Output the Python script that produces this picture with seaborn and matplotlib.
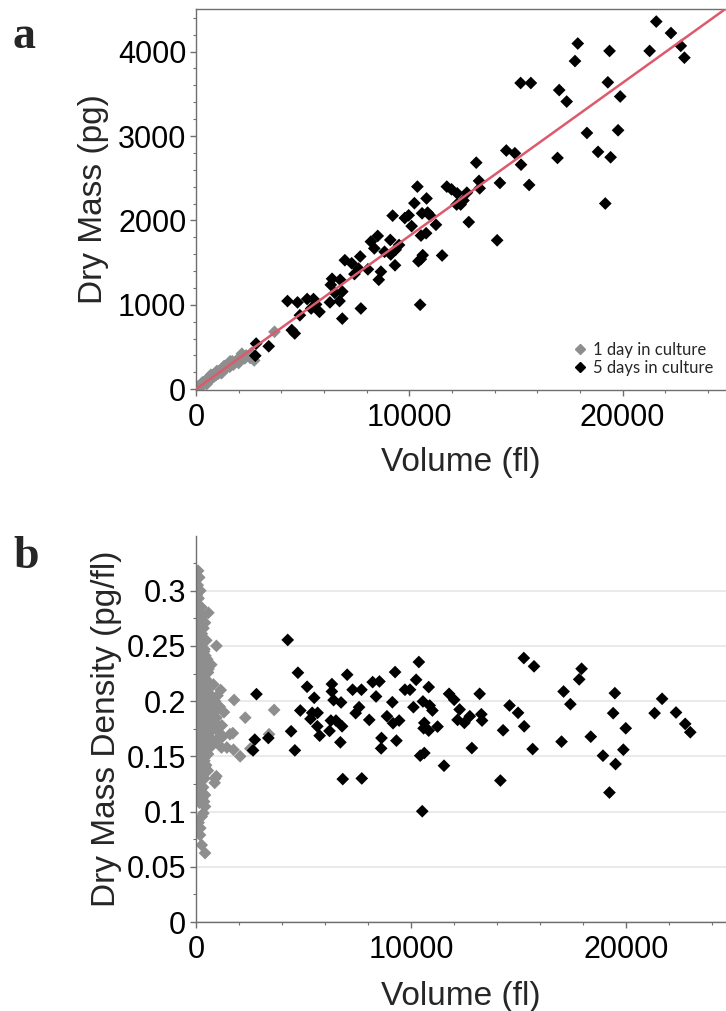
import numpy as np
import pandas as pd
import seaborn as sns
import matplotlib
matplotlib.use("Agg")
import matplotlib.pyplot as plt
from matplotlib.ticker import MultipleLocator, FuncFormatter
from matplotlib.lines import Line2D

# ---------------- data ----------------
# Panel a: 1 day in culture (gray)
a_day1_volume = [50, 80, 120, 150, 200, 230, 280, 300, 320, 350, 400, 430, 480, 500, 520, 560,
                 600, 640, 680, 700, 720, 760, 800, 850, 900, 950, 1000, 1050, 1100, 1150,
                 1200, 1220, 1280, 1350, 1420, 1500, 1580, 1600, 1650, 1750, 1820, 1900, 2000,
                 2060, 2200, 2290, 2350, 2540, 2600, 2730, 3680,
                 100, 260, 380, 550, 750, 980, 1320, 1700, 2150]
a_day1_mass = [10, 20, 35, 25, 45, 35, 60, 80, 50, 75, 70, 95, 85, 60, 110, 95,
               120, 140, 115, 170, 150, 135, 165, 150, 185, 170, 200, 185, 215, 200,
               190, 240, 225, 260, 250, 280, 265, 330, 300, 290, 315, 340, 310,
               350, 380, 365, 400, 370, 430, 340, 680,
               30, 55, 85, 125, 160, 215, 275, 330, 420]

# Panel a: 5 days in culture (black)
a_day5_volume = [21580, 22270, 22730, 22900, 21270, 17900, 17770, 19390, 19310, 19890,
                 15220, 15700, 17030, 17380, 18330, 19790, 18850, 19440, 16950, 19190,
                 14550, 14950, 15240, 15620, 13140, 14250, 13270, 13300, 11760, 11980,
                 12250, 12700, 12540, 12220, 12410, 12790, 14120, 10380, 10810, 10240,
                 9220, 9790, 9970, 10110, 10600, 10860, 11000, 11250, 10550, 10790,
                 10630, 10430, 10540, 11540, 10510, 8520, 8200, 8360, 9110, 9520,
                 9360, 8840, 9130, 9330, 8670, 8570, 7700, 6980, 7300, 7620,
                 8060, 7430, 6380, 6760, 6320, 6860, 6510, 6280, 6730, 7730,
                 6860, 4290, 4760, 5210, 5510, 5630, 5400, 5790, 4870, 4490,
                 4630, 2820, 2780, 3410]
a_day5_mass = [4356, 4220, 4068, 3928, 4008, 4096, 3888, 4008, 3636, 3468,
               3628, 3628, 3544, 3408, 3036, 3068, 2812, 2748, 2740, 2200,
               2828, 2796, 2660, 2420, 2684, 2444, 2468, 2380, 2400, 2368,
               2320, 2328, 2236, 2188, 2188, 1980, 1764, 2400, 2260, 2204,
               2056, 2028, 2060, 1932, 2084, 2092, 2052, 1948, 1820, 1848,
               1588, 1516, 1540, 1584, 1000, 1816, 1748, 1668, 1768, 1708,
               1652, 1628, 1596, 1468, 1392, 1296, 1572, 1528, 1492, 1428,
               1420, 1364, 1308, 1296, 1236, 1156, 1140, 1028, 1044, 956,
               836, 1044, 1028, 1068, 1068, 1004, 956, 916, 876, 700,
               660, 540, 396, 508]

# fitted line (pg per fl), drawn across the whole axis
fit_slope = 0.1815
fit_intercept = 0.0

# Panel b: 1 day in culture (gray)
b_day1_volume = [100, 150, 80, 200, 120, 60, 250, 180, 576, 300, 420, 90, 350, 150, 260, 480,
                 60, 950, 200, 380, 120, 300, 520, 80, 711, 240, 400, 160, 560, 330, 100, 450,
                 250, 620, 810, 180, 380, 500, 90, 290, 660, 430, 150, 340, 1771, 560, 230, 760,
                 60, 470, 320, 610, 140, 3634, 400, 850, 250, 530, 100, 700, 2291, 360, 200, 620,
                 450, 900, 130, 300, 560, 780, 220, 420, 80, 650, 1580, 1713, 3397, 340, 500, 160,
                 720, 260, 410, 600, 120, 350, 758, 654, 1435, 1185, 2528, 1744, 230, 480, 90, 320,
                 560, 180, 2054, 400, 270, 130, 350, 220, 450, 100, 300, 180, 948, 400, 887, 250,
                 869, 150, 330, 210, 100, 420, 280, 160, 420, 343, 265, 120, 200, 187, 265, 420,
                 1000, 1100, 950, 1200, 1050, 1300, 980, 1150, 880, 1250,
                 40, 110, 170, 210, 270, 330, 390, 440, 510, 580, 30, 140, 190, 260, 310, 370,
                 460, 540, 640, 50, 130, 220, 280, 360, 440, 600, 70, 170, 240, 310, 390, 470,
                 550, 20, 110, 200, 290, 380, 30, 150]
b_day1_density = [0.318, 0.312, 0.305, 0.300, 0.293, 0.288, 0.285, 0.280, 0.280, 0.276, 0.271, 0.270,
                  0.266, 0.262, 0.258, 0.255, 0.252, 0.250, 0.248, 0.245, 0.242, 0.240, 0.238, 0.236,
                  0.233, 0.232, 0.230, 0.228, 0.226, 0.224, 0.222, 0.220, 0.218, 0.216, 0.215, 0.214,
                  0.212, 0.210, 0.209, 0.208, 0.206, 0.205, 0.204, 0.202, 0.201, 0.200, 0.199, 0.198,
                  0.197, 0.196, 0.195, 0.194, 0.193, 0.192, 0.191, 0.190, 0.189, 0.188, 0.187, 0.186,
                  0.185, 0.184, 0.183, 0.182, 0.181, 0.180, 0.179, 0.178, 0.177, 0.176, 0.175, 0.174,
                  0.173, 0.172, 0.170, 0.171, 0.170, 0.169, 0.168, 0.167, 0.166, 0.165, 0.164, 0.163,
                  0.162, 0.161, 0.160, 0.159, 0.158, 0.158, 0.157, 0.156, 0.156, 0.155, 0.154, 0.153,
                  0.152, 0.151, 0.150, 0.149, 0.147, 0.145, 0.143, 0.141, 0.139, 0.137, 0.135, 0.133,
                  0.132, 0.130, 0.130, 0.128, 0.126, 0.124, 0.122, 0.120, 0.118, 0.115, 0.112, 0.108,
                  0.1045, 0.0985, 0.0955, 0.090, 0.085, 0.0788, 0.0697, 0.0624,
                  0.205, 0.195, 0.185, 0.178, 0.172, 0.190, 0.165, 0.210, 0.200, 0.168,
                  0.296, 0.283, 0.274, 0.268, 0.261, 0.254, 0.247, 0.241, 0.235, 0.229, 0.226, 0.221,
                  0.217, 0.213, 0.207, 0.203, 0.199, 0.193, 0.189, 0.184, 0.181, 0.178, 0.174, 0.171,
                  0.168, 0.164, 0.161, 0.158, 0.154, 0.150, 0.146, 0.142, 0.137, 0.134, 0.127, 0.121,
                  0.117, 0.109, 0.140, 0.197]

# Panel b: 5 days in culture (black)
b_day5_volume = [4266, 4740, 2812, 2733, 2654, 3365, 4424, 4598, 4851, 5167,
                 5498, 5404, 5656, 5325, 5641, 5751, 6209, 6320, 6320, 6399,
                 6747, 6273, 6510, 6794, 6715, 7031, 7284, 7695, 7584, 7426,
                 8058, 6826, 7710, 8216, 8532, 8374, 9132, 9259, 8880, 9164,
                 9448, 8627, 9322, 8611, 9717, 9954, 10238, 10365, 10112, 10554,
                 10823, 10870, 10997, 10618, 10586, 10823, 11234, 10428, 10618, 10523,
                 11534, 11771, 12008, 12261, 12166, 12482, 12735, 13193, 13272, 13304,
                 12830, 14283, 14157, 14583, 14978, 15263, 15247, 15721, 15658, 17096,
                 17412, 17001, 17933, 17822, 18360, 18928, 19229, 19513, 19481, 19402,
                 19987, 19876, 21330, 21678, 22325, 22752, 22989]
b_day5_density = [0.2554, 0.2257, 0.2063, 0.1651, 0.1554, 0.1666, 0.1727, 0.1554, 0.1915, 0.2130,
                  0.2030, 0.1894, 0.1894, 0.1839, 0.1772, 0.1687, 0.1730, 0.2154, 0.2087, 0.2009,
                  0.1988, 0.1824, 0.1824, 0.1772, 0.1627, 0.2239, 0.2103, 0.2103, 0.1945, 0.1891,
                  0.1830, 0.1294, 0.1300, 0.2172, 0.2178, 0.2042, 0.1990, 0.2263, 0.1863, 0.1800,
                  0.1824, 0.1666, 0.1642, 0.1572, 0.2103, 0.2103, 0.2193, 0.2354, 0.1945, 0.1997,
                  0.2127, 0.1960, 0.1915, 0.1803, 0.1754, 0.1733, 0.1769, 0.1506, 0.1530, 0.1003,
                  0.1415, 0.2066, 0.2012, 0.1924, 0.1830, 0.1803, 0.1863, 0.2066, 0.1881, 0.1824,
                  0.1575, 0.1736, 0.1281, 0.1960, 0.1894, 0.1772, 0.2390, 0.2315, 0.1566, 0.2087,
                  0.1972, 0.1633, 0.2293, 0.2197, 0.1678, 0.1506, 0.1172, 0.1430, 0.2072, 0.1891,
                  0.1754, 0.1560, 0.1891, 0.2021, 0.1897, 0.1794, 0.1718]

group_labels = ["1 day in culture", "5 days in culture"]
x_label = "Volume (fl)"
ya_label = "Dry Mass (pg)"
yb_label = "Dry Mass Density (pg/fl)"

GRAY = "#8e8e8e"
BLACK = "#000000"
RED = "#dd5a6c"
SPINE = "#6f6f6f"

df_a = pd.DataFrame({
    "Volume": a_day1_volume + a_day5_volume,
    "Mass": a_day1_mass + a_day5_mass,
    "Group": [group_labels[0]] * len(a_day1_volume) + [group_labels[1]] * len(a_day5_volume),
})
df_b = pd.DataFrame({
    "Volume": b_day1_volume + b_day5_volume,
    "Density": b_day1_density + b_day5_density,
    "Group": [group_labels[0]] * len(b_day1_volume) + [group_labels[1]] * len(b_day5_volume),
})

sns.set_theme(style="white")
plt.rcParams["font.family"] = ["Liberation Sans", "DejaVu Sans"]

W, H = 726, 1011
fig = plt.figure(figsize=(W / 100, H / 100), dpi=100)
ax1 = fig.add_axes([196 / W, 1 - 390 / H, 530 / W, 381 / H])
ax2 = fig.add_axes([196 / W, 1 - 922 / H, 530 / W, 386 / H])

pal = {group_labels[0]: GRAY, group_labels[1]: BLACK}
MS = 42

# ---- panel a ----
sns.scatterplot(data=df_a, x="Volume", y="Mass", hue="Group", palette=pal, marker="D",
                s=MS, linewidth=0, legend=False, ax=ax1, zorder=2)
xlim_a = (0, 24850)
line_x = np.array(xlim_a)
sns.lineplot(x=line_x, y=fit_slope * line_x + fit_intercept, color=RED, lw=1.8, ax=ax1, zorder=3)
ax1.set_xlim(*xlim_a)
ax1.set_ylim(-10, 4505)
ax1.yaxis.set_major_locator(MultipleLocator(1000))
ax1.yaxis.set_minor_locator(MultipleLocator(200))

# ---- panel b ----
sns.scatterplot(data=df_b, x="Volume", y="Density", hue="Group", palette=pal, marker="D",
                s=MS, linewidth=0, legend=False, ax=ax2, zorder=2)
ax2.set_xlim(0, 24650)
ax2.set_ylim(0, 0.3495)
ax2.yaxis.set_major_locator(MultipleLocator(0.05))
ax2.yaxis.set_minor_locator(MultipleLocator(0.025))
ax2.yaxis.set_major_formatter(FuncFormatter(lambda v, p: "%g" % round(v, 3)))
ax2.yaxis.grid(True, which="major", color="#e4e4e4", lw=1.1)
ax2.set_axisbelow(True)

for ax in (ax1, ax2):
    ax.xaxis.set_major_locator(MultipleLocator(10000))
    ax.xaxis.set_minor_locator(MultipleLocator(2000))
    ax.tick_params(which="major", direction="out", length=4, width=1, color=SPINE,
                   labelsize=22, pad=3, left=True, bottom=True, labelcolor="black")
    ax.tick_params(which="minor", direction="out", length=2.5, width=0.8, color=SPINE,
                   left=True, bottom=True)
    ax.tick_params(axis="x", which="major", pad=5)
    for s in ax.spines.values():
        s.set_color(SPINE)
        s.set_linewidth(1)
    ax.spines["right"].set_visible(False)
    ax.set_xlabel(x_label, fontsize=24)

ax2.spines["top"].set_visible(False)

ax1.set_ylabel(ya_label, fontsize=24)
ax2.set_ylabel(yb_label, fontsize=24)
ax1.yaxis.set_label_coords(-0.164, 0.5)
ax2.yaxis.set_label_coords(-0.140, 0.5)
ax1.xaxis.set_label_coords(0.5, -0.15)
ax2.xaxis.set_label_coords(0.5, -0.153)

handles = [Line2D([], [], marker="D", color=GRAY, ls="", markersize=5.5),
           Line2D([], [], marker="D", color=BLACK, ls="", markersize=5.5)]
leg = ax1.legend(handles, group_labels, loc="lower left", bbox_to_anchor=(0.712, 0.036),
                 frameon=False, handlelength=0.8, handletextpad=0.35, labelspacing=0.15,
                 borderpad=0, borderaxespad=0, prop={"family": "Lato", "size": 12})

fig.text(13 / W, 1 - 48 / H, "a", fontsize=33, fontweight="bold", family="Liberation Serif",
         ha="left", va="baseline")
fig.text(13 / W, 1 - 568 / H, "b", fontsize=33, fontweight="bold", family="Liberation Serif",
         ha="left", va="baseline")

fig.savefig("out.png", dpi=100)
